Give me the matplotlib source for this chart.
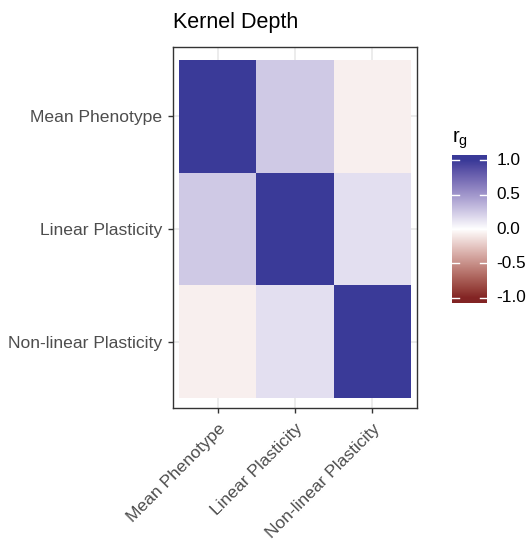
import numpy as np
import matplotlib
matplotlib.use("Agg")
import matplotlib.pyplot as plt
from matplotlib.colors import ListedColormap, to_rgb

plt.rcParams['font.family'] = ['Liberation Sans', 'DejaVu Sans']

traits = ['Mean Phenotype', 'Linear Plasticity', 'Non-linear Plasticity']
# genetic correlations between the three reaction-norm components
rg = np.array([
    [1.00, 0.25, -0.07],
    [0.25, 1.00, 0.15],
    [-0.07, 0.15, 1.00],
])
cbar_ticks = [-1.0, -0.5, 0.0, 0.5, 1.0]
cbar_labels = ['-1.0', '-0.5', '0.0', '0.5', '1.0']


# diverging ramp interpolated in CIELAB (muted red - white - muted blue)
def srgb_to_lab(rgb):
    rgb = np.asarray(rgb, float)
    lin = np.where(rgb <= 0.04045, rgb / 12.92, ((rgb + 0.055) / 1.055) ** 2.4)
    M = np.array([[0.4124, 0.3576, 0.1805],
                  [0.2126, 0.7152, 0.0722],
                  [0.0193, 0.1192, 0.9505]])
    xyz = lin @ M.T / np.array([0.95047, 1.0, 1.08883])
    d = 6 / 29
    f = np.where(xyz > d ** 3, np.cbrt(xyz), xyz / (3 * d * d) + 4 / 29)
    L = 116 * f[..., 1] - 16
    a = 500 * (f[..., 0] - f[..., 1])
    b = 200 * (f[..., 1] - f[..., 2])
    return np.stack([L, a, b], -1)


def lab_to_srgb(lab):
    lab = np.asarray(lab, float)
    fy = (lab[..., 0] + 16) / 116
    fx = fy + lab[..., 1] / 500
    fz = fy - lab[..., 2] / 200
    f = np.stack([fx, fy, fz], -1)
    d = 6 / 29
    xyz = np.where(f > d, f ** 3, 3 * d * d * (f - 4 / 29))
    xyz = xyz * np.array([0.95047, 1.0, 1.08883])
    Minv = np.array([[3.2406, -1.5372, -0.4986],
                     [-0.9689, 1.8758, 0.0415],
                     [0.0557, -0.2040, 1.0570]])
    lin = xyz @ Minv.T
    lin = np.clip(lin, 0, 1)
    rgb = np.where(lin <= 0.0031308, 12.92 * lin, 1.055 * lin ** (1 / 2.4) - 0.055)
    return np.clip(rgb, 0, 1)


low = srgb_to_lab(to_rgb('#832424'))
mid = srgb_to_lab(to_rgb('#FFFFFF'))
high = srgb_to_lab(to_rgb('#3A3A98'))
v = np.linspace(-1, 1, 512)
t = np.abs(v)[:, None]
lab = np.where(v[:, None] < 0, mid + (low - mid) * t, mid + (high - mid) * t)
cmap = ListedColormap(lab_to_srgb(lab))

fig = plt.figure(figsize=(5.30, 5.44), dpi=100)
ax = fig.add_axes([173 / 530, 1 - 408 / 544, 244 / 530, 361 / 544])

n = len(traits)
xs = np.arange(n + 1) + 0.5
ys = np.arange(n + 1) + 0.5
# first trait at the top of the y axis
ax.pcolormesh(xs, ys, rg[::-1], cmap=cmap, vmin=-1, vmax=1, zorder=2)
ax.set_xlim(0.422, n + 0.578)
ax.set_ylim(0.411, n + 0.615)
ax.set_xticks(np.arange(1, n + 1))
ax.set_yticks(np.arange(1, n + 1))
ax.set_xticklabels(traits, rotation=45, ha='right', va='top',
                   rotation_mode='anchor')
ax.set_yticklabels(traits[::-1])
ax.grid(True, color='#EBEBEB', lw=1.3, zorder=0)
ax.set_axisbelow(True)
for s in ax.spines.values():
    s.set_color('#333333')
    s.set_linewidth(1.0)
ax.tick_params(colors='#333333', labelcolor='#4D4D4D', labelsize=12.6,
               length=3.5, width=1.0)
ax.tick_params(axis='x', pad=6)
ax.tick_params(axis='y', pad=4.5)

fig.text(173 / 530, 1 - 28 / 544, 'Kernel Depth', fontsize=15.5, ha='left',
         va='baseline')

# colour bar
cax = fig.add_axes([452 / 530, 1 - 303 / 544, 35 / 530, 148 / 544])
lo, hi = -1.075, 1.075
grad = np.linspace(hi, lo, 300)[:, None]
cax.imshow(grad, cmap=cmap, vmin=-1, vmax=1, aspect='auto',
           extent=[0, 1, lo, hi])
cax.set_xlim(0, 1)
cax.set_ylim(lo, hi)
cax.set_xticks([])
cax.set_yticks([])
for s in cax.spines.values():
    s.set_visible(False)
for tv, tl in zip(cbar_ticks, cbar_labels):
    cax.plot([0, 0.2], [tv, tv], color='white', lw=1)
    cax.plot([0.8, 1], [tv, tv], color='white', lw=1)
    cax.text(1.27, tv, tl, fontsize=12.4, ha='left', va='center',
             transform=cax.get_yaxis_transform())
fig.text(452 / 530, 1 - 143 / 544, r'r$_\mathregular{g}$', fontsize=14.5,
         ha='left', va='baseline')

fig.savefig('out.png', dpi=100)
